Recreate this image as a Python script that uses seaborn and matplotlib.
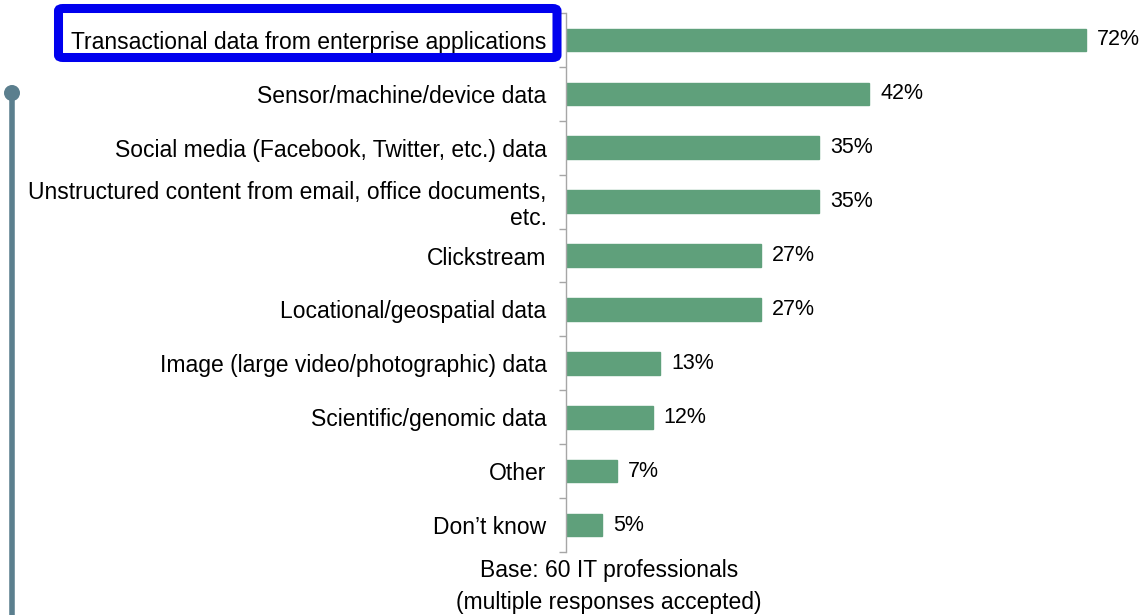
import matplotlib
matplotlib.use("Agg")
import matplotlib.pyplot as plt
import seaborn as sns
import pandas as pd
from matplotlib.patches import FancyBboxPatch, Circle
from matplotlib.lines import Line2D

categories = [
    "Transactional data from enterprise applications",
    "Sensor/machine/device data",
    "Social media (Facebook, Twitter, etc.) data",
    "Unstructured content from email, office documents,\netc.",
    "Clickstream",
    "Locational/geospatial data",
    "Image (large video/photographic) data",
    "Scientific/genomic data",
    "Other",
    "Don\u2019t know",
]
values = [72, 42, 35, 35, 27, 27, 13, 12, 7, 5]
value_labels = ["72%", "42%", "35%", "35%", "27%", "27%", "13%", "12%", "7%", "5%"]
base_note = "Base: 60 IT professionals"
resp_note = "(multiple responses accepted)"

sns.set_style("white")
plt.rcParams["font.family"] = ["Liberation Sans", "DejaVu Sans"]
plt.rcParams["text.color"] = "black"
plt.rcParams["ytick.color"] = "black"
plt.rcParams["ytick.labelcolor"] = "black"

df = pd.DataFrame({"category": categories, "value": values})

W, H = 1144, 615
fig = plt.figure(figsize=(W / 100, H / 100), dpi=100)
ax = fig.add_axes([566 / W, 1 - 552 / H, 1 - 566 / W, (552 - 13) / H])

sns.barplot(data=df, x="value", y="category", orient="h", color="#5fa07b",
            saturation=1, width=0.42, ax=ax, edgecolor="#5fa07b")

ax.set_xlim(0, 80)
ax.set_ylim(len(categories) - 0.5, -0.5)
ax.set_xlabel("")
ax.set_ylabel("")
ax.set_xticks([])
for s in ["top", "right", "bottom"]:
    ax.spines[s].set_visible(False)
ax.spines["left"].set_color("#a6a6a6")
ax.spines["left"].set_linewidth(1.0)

ax.set_yticks(range(len(categories)))
ax.set_yticklabels(categories, fontsize=16.5, ha="right", linespacing=1.15, color="black")
ax.tick_params(axis="y", which="major", left=True, length=0, pad=14)
ax.set_yticks([i - 0.5 for i in range(len(categories) + 1)], minor=True)
ax.tick_params(axis="y", which="minor", left=True, length=5, width=1,
               color="#a6a6a6", direction="out")

ax.bar_label(ax.containers[0], labels=value_labels, padding=8, fontsize=15.5, color="black")

# notes below
fig.text(609 / W, 1 - 571 / H, base_note, ha="center", va="center", fontsize=16.5, color="black")
fig.text(609 / W, 1 - 602 / H, resp_note, ha="center", va="center", fontsize=16.5, color="black")

# blue highlight box around the first label
box = FancyBboxPatch((58.5 / W, 1 - 57.5 / H), (557 - 58.5) / W, (57.5 - 8.5) / H,
                     boxstyle="round,pad=0,rounding_size=0.004",
                     transform=fig.transFigure, facecolor="none",
                     edgecolor="#0000ee", linewidth=6.5, zorder=5)
fig.patches.append(box)

# decorative vertical line with a knob
line_col = "#5b7f8e"
fig.lines.append(Line2D([12 / W, 12 / W], [0, 1 - 93 / H], transform=fig.transFigure,
                        color=line_col, linewidth=4))
fig.patches.append(Circle((12, H - 93), 8, transform=None, facecolor=line_col,
                          edgecolor="none"))

fig.savefig("out.png", dpi=100)
